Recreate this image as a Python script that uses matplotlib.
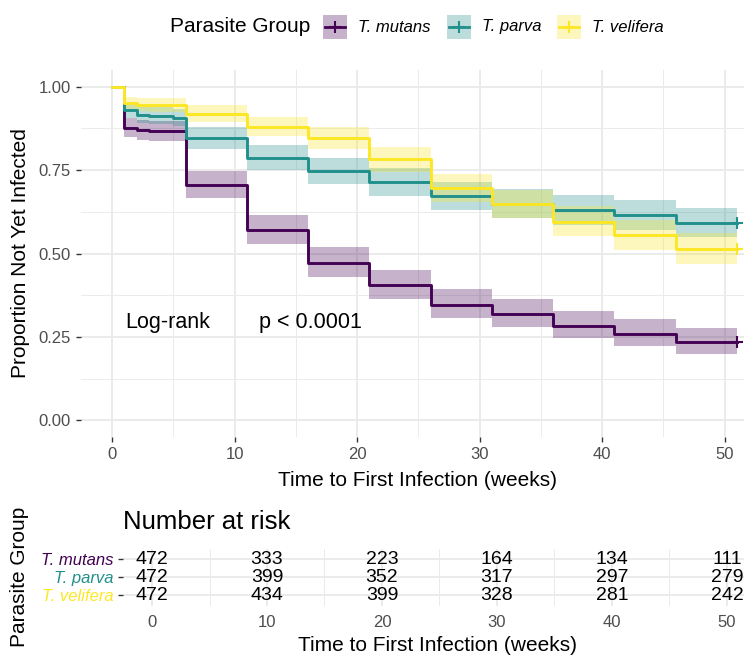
import numpy as np
import matplotlib
matplotlib.use("Agg")
import matplotlib.pyplot as plt
from matplotlib.patches import Rectangle
from matplotlib.lines import Line2D

plt.rcParams['font.family'] = ['Liberation Sans', 'DejaVu Sans']

# Kaplan-Meier estimates per parasite group (step times in weeks)
groups = ["T. mutans", "T. parva", "T. velifera"]
colors = ["#440154", "#21908C", "#FDE725"]
n_start = 472

times = [0, 1, 2, 3, 5, 6, 11, 16, 21, 26, 31, 36, 41, 46, 51]
surv_mutans = [1.0, 0.877, 0.869, 0.866, 0.866, 0.706, 0.570, 0.472, 0.405,
               0.347, 0.320, 0.284, 0.260, 0.235, 0.235]
surv_parva = [1.0, 0.930, 0.915, 0.913, 0.907, 0.845, 0.786, 0.746, 0.713,
              0.672, 0.649, 0.629, 0.614, 0.591, 0.591]
surv_velifera = [1.0, 0.950, 0.946, 0.944, 0.944, 0.919, 0.880, 0.845, 0.782,
                 0.695, 0.647, 0.595, 0.555, 0.513, 0.513]

# number at risk table
risk_times = [0, 10, 20, 30, 40, 50]
risk_mutans = [472, 333, 223, 164, 134, 111]
risk_parva = [472, 399, 352, 317, 297, 279]
risk_velifera = [472, 434, 399, 328, 281, 242]

curves = [surv_mutans, surv_parva, surv_velifera]
risks = [risk_mutans, risk_parva, risk_velifera]

W, H = 744, 660
fig = plt.figure(figsize=(W / 100, H / 100), dpi=100)

GRID_MAJ = "#EBEBEB"
TICK_LBL = "#4D4D4D"

# ---- survival panel ----
ax = fig.add_axes([81 / W, 1 - 437 / H, 687 / W, 367 / H])
for v in np.arange(0, 55, 10):
    ax.axvline(v, color=GRID_MAJ, lw=1.4, zorder=0)
for v in np.arange(5, 55, 10):
    ax.axvline(v, color=GRID_MAJ, lw=0.7, zorder=0)
for v in np.arange(0, 1.01, 0.25):
    ax.axhline(v, color=GRID_MAJ, lw=1.4, zorder=0)
for v in np.arange(0.125, 1.0, 0.25):
    ax.axhline(v, color=GRID_MAJ, lw=0.7, zorder=0)

t = np.array(times, dtype=float)
for s, col in zip(curves, colors):
    s = np.array(s)
    # log-transformed Greenwood interval (no censoring before end)
    se = np.sqrt((1 - s) / (n_start * s))
    lo = s * np.exp(-1.96 * se)
    hi = np.minimum(1.0, s * np.exp(1.96 * se))
    ax.fill_between(t, lo, hi, step='post', color=col, alpha=0.3, lw=0, zorder=2)
for s, col in zip(curves, colors):
    ax.step(t, s, where='post', color=col, lw=2.1, zorder=3)
    ax.plot(t[-1], s[-1], marker='+', color=col, ms=9, mew=1.5, zorder=4)

ax.text(1.05, 0.292, "Log-rank", fontsize=15.5, va='center', ha='left')
ax.text(12.0, 0.292, "p < 0.0001", fontsize=15.5, va='center', ha='left')

ax.set_xlim(-2.55, 53.55)
ax.set_ylim(-0.05, 1.05)
ax.set_xticks(risk_times)
ax.set_yticks([0, 0.25, 0.5, 0.75, 1.0])
ax.set_yticklabels(["0.00", "0.25", "0.50", "0.75", "1.00"])
for sp in ax.spines.values():
    sp.set_visible(False)
ax.tick_params(axis='both', length=3.8, width=1.0, color="#333333",
               labelcolor=TICK_LBL, labelsize=12, pad=3.5)
ax.set_xlabel("Time to First Infection (weeks)", fontsize=15)
ax.xaxis.set_label_coords((418 - 81) / 687, -(471 - 437) / 367)
ax.xaxis.label.set_va('top')
ax.set_ylabel("Proportion Not Yet Infected", fontsize=15)
ax.yaxis.set_label_coords((30 - 81) / 687, 0.5)

# ---- legend (keys drawn by hand: band square + line + censor mark) ----
leg_y = 1 - 27 / H
fig.text(310 / W, leg_y, "Parasite Group", fontsize=15, ha='right', va='center')
key_left = [323, 447, 557]
key_size = 24
for x0, name, col in zip(key_left, groups, colors):
    fig.add_artist(Rectangle((x0 / W, leg_y - key_size / 2 / H), key_size / W, key_size / H,
                             transform=fig.transFigure, facecolor=col, alpha=0.3, lw=0))
    fig.add_artist(Line2D([(x0 + 2) / W, (x0 + key_size - 2) / W], [leg_y, leg_y],
                          transform=fig.transFigure, color=col, lw=2.0))
    fig.add_artist(Line2D([(x0 + key_size / 2) / W], [leg_y], transform=fig.transFigure,
                          color=col, marker='+', ms=8, mew=1.5, lw=0))
    fig.text((x0 + key_size + 11) / W, leg_y, name, fontsize=12, style='italic',
             ha='left', va='center')

# ---- risk table ----
rx = fig.add_axes([122.7 / W, 1 - 605.7 / H, 645 / W, 57 / H])
for v in np.arange(0, 55, 10):
    rx.axvline(v, color=GRID_MAJ, lw=1.4, zorder=0)
for v in np.arange(5, 55, 10):
    rx.axvline(v, color=GRID_MAJ, lw=0.7, zorder=0)
rows = [3, 2, 1]
for r in rows:
    rx.axhline(r, color=GRID_MAJ, lw=1.4, zorder=0)
for r, vals in zip(rows, risks):
    for tt, v in zip(risk_times, vals):
        rx.text(tt, r, str(v), ha='center', va='center', fontsize=14, color='black')

rx.set_xlim(-2.55, 53.55)
rx.set_ylim(0.4, 3.6)
rx.set_xticks(risk_times)
rx.set_yticks(rows)
rx.set_yticklabels(groups, fontstyle='italic')
for lbl, col in zip(rx.get_yticklabels(), colors):
    lbl.set_color(col)
for sp in rx.spines.values():
    sp.set_visible(False)
rx.tick_params(axis='x', length=0, labelcolor=TICK_LBL, labelsize=12, pad=7)
rx.tick_params(axis='y', length=3.8, width=1.0, color="#333333", labelsize=12, pad=3)

rx.set_title("Number at risk", fontsize=18.5, loc='left', pad=14)
rx.set_xlabel("Time to First Infection (weeks)", fontsize=15)
rx.xaxis.set_label_coords((438 - 122.7) / 645, -(636 - 605.7) / 57)
rx.xaxis.label.set_va('top')
rx.set_ylabel("Parasite Group", fontsize=15)
rx.yaxis.set_label_coords((29 - 122.7) / 645, 0.5)

fig.savefig("out.png", dpi=100)
